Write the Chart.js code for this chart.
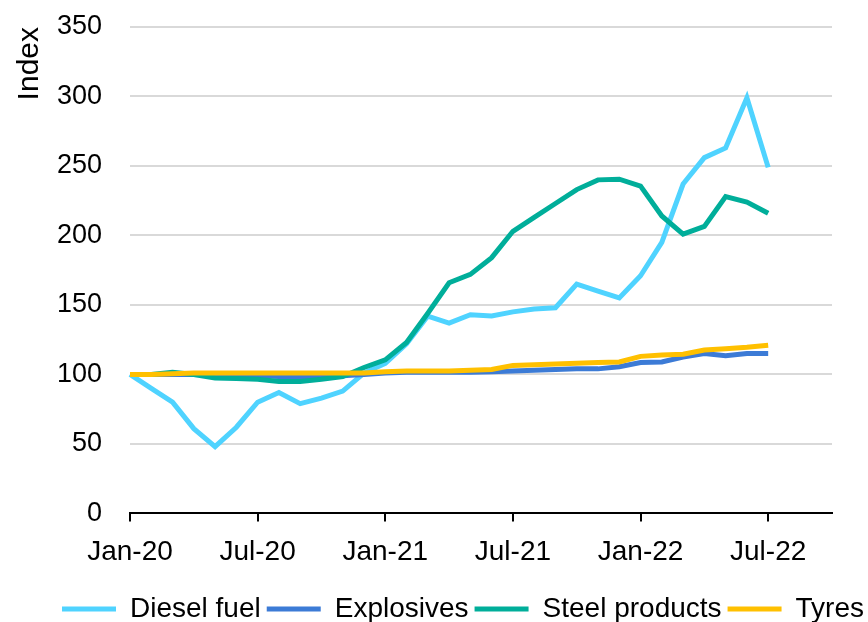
<!DOCTYPE html>
<html>
<head>
<meta charset="utf-8">
<script src="https://cdn.jsdelivr.net/npm/chart.js@4/dist/chart.umd.min.js"></script>
<style>
  html, body { margin: 0; padding: 0; background: #fff; }
  #wrap { width: 868px; height: 622px; }
</style>
</head>
<body>
<div id="wrap"><canvas id="myChart" width="868" height="622"></canvas></div>
<script>
const months = [
  'Jan-20', 'Feb-20', 'Mar-20', 'Apr-20', 'May-20', 'Jun-20',
  'Jul-20', 'Aug-20', 'Sep-20', 'Oct-20', 'Nov-20', 'Dec-20',
  'Jan-21', 'Feb-21', 'Mar-21', 'Apr-21', 'May-21', 'Jun-21',
  'Jul-21', 'Aug-21', 'Sep-21', 'Oct-21', 'Nov-21', 'Dec-21',
  'Jan-22', 'Feb-22', 'Mar-22', 'Apr-22', 'May-22', 'Jun-22',
  'Jul-22', 'Aug-22', 'Sep-22', 'Oct-22'
]

const dieselFuel = [100, 90, 80, 61, 48, 62, 80, 87, 79, 83, 88, 101,
  108, 122, 142, 137, 143, 142, 145, 147, 148, 165, 160, 155,
  171, 195, 237, 256, 263, 299, 249]
const explosives = [100, 100, 100, 100, 99.5, 99, 99, 98.5, 98.5, 98.5, 99, 100,
  101, 101.5, 101.5, 101.5, 101.5, 102, 102.5, 103, 103.5, 104, 104, 105.5,
  108.5, 109, 112.5, 115, 113.5, 115, 115]
const steelProducts = [100, 100, 101.5, 100, 97.5, 97, 96.5, 95, 95, 96.5, 98.5, 105,
  110.5, 123, 144, 166, 172, 184, 203, 213, 223, 233, 240, 240.5,
  235.5, 214, 201, 206.5, 228, 224, 216]
const tyres = [100, 100, 100.5, 101, 101, 101, 101, 101, 101, 101, 101, 101,
  102, 102.5, 102.5, 102.5, 103, 103.5, 106.5, 107, 107.5, 108, 108.5, 109,
  113, 114, 114.5, 117.5, 118.5, 119.5, 121]

const seriesNames = ['Diesel fuel', 'Explosives', 'Steel products', 'Tyres']
const seriesColors = ['#4FD3FF', '#3C7BD6', '#00AE9A', '#FFC000']
const seriesData = [dieselFuel, explosives, steelProducts, tyres]

const yTicks = [0, 50, 100, 150, 200, 250, 300, 350]

const family = '"Liberation Sans", Arial, sans-serif'

// nudge the legend row right/down under the plot
const legendShift = {
  id: 'legendShift',
  afterLayout(chart) {
    const lg = chart.legend
    lg.left += 56
    lg.right += 56
    lg.top += 15
    lg.bottom += 15
  }
}

var ctx = document.getElementById('myChart').getContext('2d')
var myChart = new Chart(ctx, {
  type: 'line',
  data: {
    labels: months,
    datasets: seriesData.map((d, i) => ({
      label: seriesNames[i],
      data: d,
      borderColor: seriesColors[i],
      backgroundColor: seriesColors[i],
      borderWidth: 5,
      pointRadius: 0,
      tension: 0,
      // later series sit on top
      order: seriesNames.length - i
    }))
  },
  plugins: [legendShift],
  options: {
    responsive: false,
    animation: false,
    layout: {
      padding: { left: 0, right: 36, top: 27, bottom: 4 }
    },
    plugins: {
      tooltip: { enabled: false },
      legend: {
        position: 'bottom',
        align: 'start',
        labels: {
          color: '#000',
          font: { family: family, size: 28 },
          boxWidth: 54,
          boxHeight: 5,
          padding: 6,
          sort: (a, b) => a.datasetIndex - b.datasetIndex,
          generateLabels: function (chart) {
            const items = Chart.defaults.plugins.legend.labels.generateLabels(chart)
            items.forEach(item => {
              item.lineWidth = 0
              item.fillStyle = item.strokeStyle
            })
            return items
          }
        }
      }
    },
    scales: {
      x: {
        offset: false,
        afterFit: axis => {
          axis.height -= 9
        },
        border: { display: true, color: '#000', width: 2 },
        grid: {
          drawOnChartArea: false,
          drawTicks: true,
          tickLength: 8,
          lineWidth: 2,
          color: c => (c.index % 6 === 0 ? '#000' : 'rgba(0,0,0,0)')
        },
        ticks: {
          autoSkip: false,
          maxRotation: 0,
          minRotation: 0,
          padding: 14,
          color: '#000',
          font: { family: family, size: 28 },
          callback: function (v, i) {
            return i % 6 === 0 && i < 31 ? months[i] : ''
          }
        }
      },
      y: {
        min: 0,
        max: 350,
        afterBuildTicks: axis => {
          axis.ticks = yTicks.map(v => ({ value: v }))
        },
        afterFit: axis => {
          axis.width = 130
          axis.paddingTop = 0
          axis.paddingBottom = 0
        },
        border: { display: false },
        grid: {
          color: '#D9D9D9',
          lineWidth: 2,
          drawTicks: false
        },
        ticks: {
          padding: 28,
          color: '#000',
          font: { family: family, size: 27 }
        },
        title: {
          display: true,
          text: 'Index',
          align: 'end',
          color: '#000',
          font: { family: family, size: 30 },
          padding: { top: 12, bottom: 0 }
        }
      }
    }
  }
})
</script>
</body>
</html>
